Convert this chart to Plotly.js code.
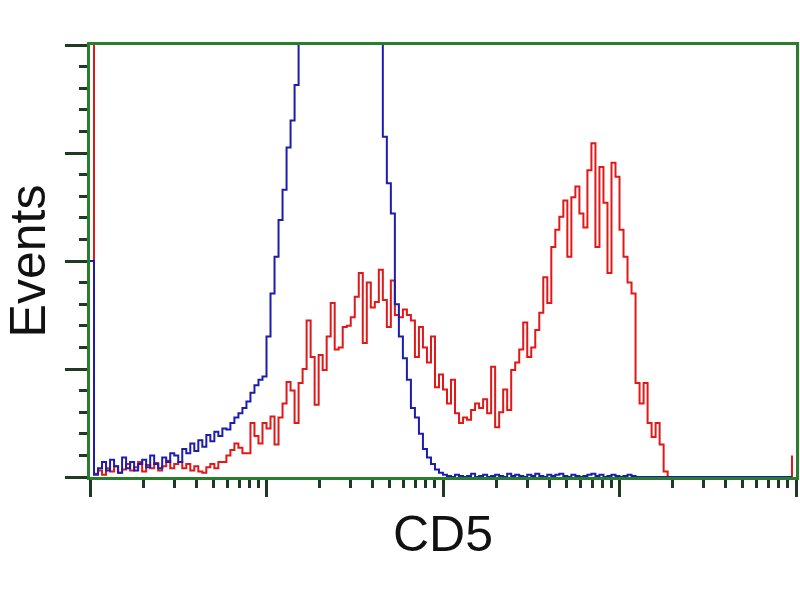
<!DOCTYPE html>
<html>
<head>
<meta charset="utf-8">
<script src="https://cdn.plot.ly/plotly-3.0.1.min.js"></script>
<style>
html,body{margin:0;padding:0;background:#fff;}
#chart{width:800px;height:600px;}
</style>
</head>
<body>
<div id="chart"></div>
<script>
// Histogram counts per channel (176 channels over 4 log decades, 44 channels per decade)
const blueCounts = [
  200, 2, 8, 14, 6, 16, 10, 4, 18, 8, 14, 6, 12, 16, 9, 20, 12, 8, 18, 14,
  22, 20, 14, 26, 22, 31, 24, 34, 28, 39, 33, 42, 38, 45, 44, 50, 55, 59, 64, 70,
  78, 85, 90, 93, 130, 170, 204, 238, 266, 305, 330, 363, 410, 460, 520, 580, 650, 720, 790, 850,
  880, 900, 890, 860, 820, 760, 700, 640, 580, 530, 480, 450, 500, 315, 272, 244, 160, 130, 110, 90,
  64, 55, 40, 26, 18, 12, 7, 4, 2, 1, 0, 2, 1, 0, 1, 3, 0, 1, 2, 0,
  1, 2, 1, 0, 3, 1, 2, 1, 0, 2, 1, 3, 1, 0, 2, 1, 2, 3, 1, 0,
  2, 1, 0, 1, 2, 3, 1, 2, 0, 1, 2, 1, 0, 1, 2, 1, 0, 0, 0, 0,
  0, 0, 0, 0, 0, 0, 0, 0, 0, 0, 0, 0, 0, 0, 0, 0, 0, 0, 0, 0,
  0, 0, 0, 0, 0, 0, 0, 0, 0, 0, 0, 0, 0, 0, 0, 0
];
const redCounts = [
  500, 3, 6, 2, 8, 5, 10, 4, 7, 12, 6, 9, 14, 5, 11, 8, 13, 6, 10, 15,
  8, 12, 14, 8, 12, 6, 10, 5, 4, 9, 12, 8, 14, 14, 20, 25, 31, 27, 22, 22,
  50, 38, 31, 50, 45, 56, 30, 55, 68, 88, 80, 50, 87, 100, 145, 111, 67, 113, 99, 130,
  161, 118, 120, 139, 140, 148, 167, 189, 124, 180, 157, 162, 192, 164, 139, 182, 150, 148, 155, 150,
  145, 111, 139, 120, 106, 130, 83, 95, 81, 68, 90, 59, 50, 55, 53, 62, 68, 64, 72, 59,
  102, 46, 60, 81, 62, 99, 106, 118, 143, 111, 120, 136, 152, 185, 161, 213, 229, 241, 256, 204,
  259, 269, 244, 231, 284, 309, 213, 287, 254, 189, 291, 278, 229, 204, 180, 170, 87, 68, 87, 50,
  37, 50, 30, 5, 0, 0, 0, 0, 0, 0, 0, 0, 0, 0, 0, 0, 0, 0, 0, 0,
  0, 0, 0, 0, 0, 0, 0, 0, 0, 0, 0, 0, 0, 0, 0, 20
];
const channels = redCounts.map((_, i) => i);
const channelsPerDecade = 44;
const decades = 4;
const xTitle = "CD5";
const yTitle = "Events";

const majorX = [], minorX = [];
for (let d = 0; d <= decades; d++) {
  majorX.push(d * channelsPerDecade);
  if (d < decades) {
    for (let k = 2; k <= 9; k++) minorX.push(channelsPerDecade * (d + Math.log10(k)));
  }
}
const majorY = [0, 100, 200, 300, 400];
const minorY = [];
for (let v = 0; v < 400; v += 20) if (v % 100 !== 0) minorY.push(v);

const axisGreen = "#2a7d2a";
const tickDark = "#1e3a22";

const traces = [
  {x: channels, y: redCounts, type: "scatter", mode: "lines",
   line: {color: "#e01818", width: 2, shape: "hv"}, hoverinfo: "none"},
  {x: channels, y: blueCounts, type: "scatter", mode: "lines",
   line: {color: "#1c1cb0", width: 2, shape: "hv"}, hoverinfo: "none"}
];

const layout = {
  width: 800, height: 600,
  margin: {l: 90, r: 4, t: 45, b: 123},
  paper_bgcolor: "#ffffff", plot_bgcolor: "#ffffff",
  showlegend: false,
  font: {family: "Liberation Sans, Arial, sans-serif", color: "#111"},
  xaxis: {
    range: [0, channelsPerDecade * decades],
    showgrid: false, zeroline: false,
    showline: true, linecolor: axisGreen, linewidth: 3, mirror: true,
    tickmode: "array", tickvals: majorX, ticks: "outside",
    ticklen: 17, tickwidth: 3, tickcolor: tickDark,
    showticklabels: false,
    minor: {tickvals: minorX, ticks: "outside", ticklen: 8, tickwidth: 3, tickcolor: tickDark},
    title: {text: xTitle, font: {size: 50, color: "#111"}, standoff: 20},
    automargin: false
  },
  yaxis: {
    range: [0, 400],
    showgrid: false, zeroline: false,
    showline: true, linecolor: axisGreen, linewidth: 3, mirror: true,
    tickmode: "array", tickvals: majorY, ticks: "outside",
    ticklen: 22, tickwidth: 3, tickcolor: tickDark,
    showticklabels: false,
    minor: {tickvals: minorY, ticks: "outside", ticklen: 8, tickwidth: 3, tickcolor: tickDark},
    title: {text: yTitle, font: {size: 50, color: "#111"}, standoff: 16},
    automargin: false
  }
};

Plotly.newPlot("chart", traces, layout, {staticPlot: true, displayModeBar: false});
</script>
</body>
</html>
